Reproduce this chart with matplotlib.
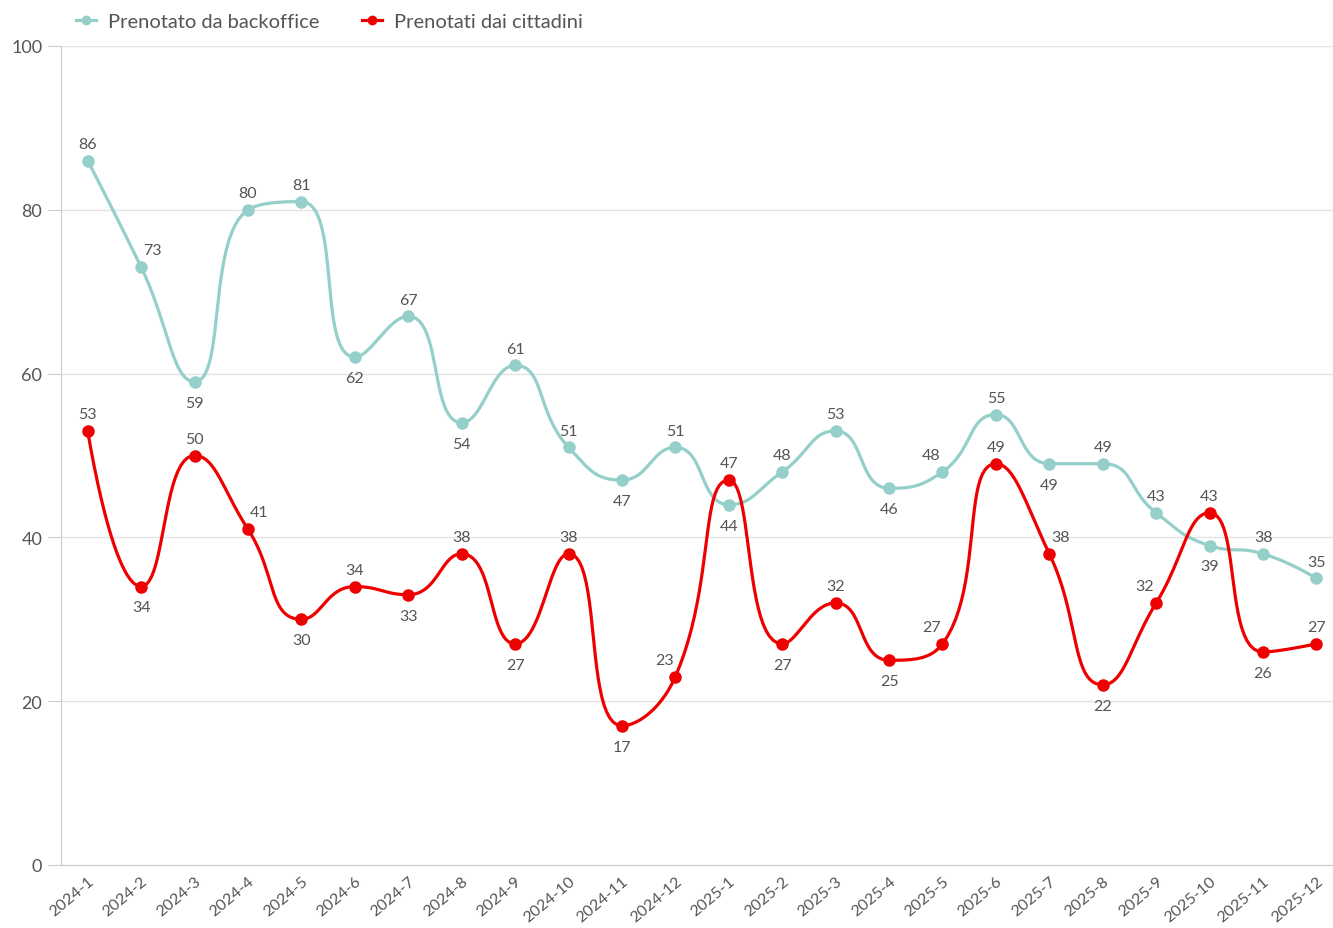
import numpy as np
import matplotlib.pyplot as plt

months = ['2024-1', '2024-2', '2024-3', '2024-4', '2024-5', '2024-6', '2024-7', '2024-8',
          '2024-9', '2024-10', '2024-11', '2024-12', '2025-1', '2025-2', '2025-3', '2025-4',
          '2025-5', '2025-6', '2025-7', '2025-8', '2025-9', '2025-10', '2025-11', '2025-12']
backoffice = [86, 73, 59, 80, 81, 62, 67, 54, 61, 51, 47, 51, 44, 48, 53, 46, 48, 55, 49, 49, 43, 39, 38, 35]
cittadini = [53, 34, 50, 41, 30, 34, 33, 38, 27, 38, 17, 23, 47, 27, 32, 25, 27, 49, 38, 22, 32, 43, 26, 27]

# label placement: 'a' above, 'b' below, 'r' above-right, 'l' above-left
pos_back = ['a', 'r', 'b', 'a', 'a', 'b', 'a', 'b', 'a', 'a', 'b', 'a',
            'b', 'a', 'a', 'b', 'l', 'a', 'b', 'a', 'a', 'b', 'a', 'a']
pos_citt = ['a', 'b', 'a', 'r', 'b', 'a', 'b', 'a', 'b', 'a', 'b', 'l',
            'a', 'b', 'a', 'b', 'l', 'a', 'r', 'b', 'l', 'a', 'b', 'a']

TEAL = '#94cfca'
RED = '#ee0000'
TXT = '#555555'

PX_X = 53.4   # pixels per category
PX_Y = 8.19   # pixels per unit


def smooth_path(vals, sm=0.5, n=24):
    # bezier smoothing with clamped control points (no overshoot), drawing only
    P = np.column_stack([np.arange(len(vals)) * PX_X, np.asarray(vals, float) * PX_Y])
    N = len(P)
    out = [P[0:1]]
    cp0 = P[0].copy()
    t = np.linspace(0, 1, n)[1:, None]
    for k in range(1, N):
        prev, cur = P[k - 1], P[k]
        if k + 1 >= N:
            cp1 = cur.copy()
            ncp0 = cur.copy()
        else:
            nxt = P[k + 1]
            v = nxt - prev
            lp = np.hypot(*(cur - prev))
            ln = np.hypot(*(nxt - cur))
            r = ln / (ln + lp)
            ncp0 = cur + v * sm * r
            ncp0 = np.minimum(ncp0, np.maximum(nxt, cur))
            ncp0 = np.maximum(ncp0, np.minimum(nxt, cur))
            v = ncp0 - cur
            cp1 = cur - v * lp / ln
            cp1 = np.minimum(cp1, np.maximum(prev, cur))
            cp1 = np.maximum(cp1, np.minimum(prev, cur))
            v = cur - cp1
            ncp0 = cur + v * ln / lp
        seg = ((1 - t)**3) * prev + 3 * ((1 - t)**2) * t * cp0 + 3 * (1 - t) * t**2 * cp1 + t**3 * cur
        out.append(seg)
        cp0 = ncp0
    pts = np.vstack(out)
    return pts[:, 0] / PX_X, pts[:, 1] / PX_Y


plt.rcParams['font.family'] = ['Lato', 'DejaVu Sans']
fig = plt.figure(figsize=(13.33, 9.29), dpi=100)
ax = fig.add_axes([61/1333, 1 - 866/929, 1 - 61/1333, (866 - 47)/929])

x = np.arange(len(months))
for vals, col, pos in [(backoffice, TEAL, pos_back), (cittadini, RED, pos_citt)]:
    sx, sy = smooth_path(vals)
    ax.plot(sx, sy, color=col, lw=2.3, zorder=3, solid_capstyle='round')
    ax.plot(x, vals, 'o', color=col, ms=8, zorder=4)
    for i, v in enumerate(vals):
        p = pos[i]
        if p == 'b':
            off, va = (0, -10), 'top'
        elif p == 'r':
            off, va = (8, 7), 'bottom'
        elif p == 'l':
            off, va = (-8, 7), 'bottom'
        else:
            off, va = (0, 7), 'bottom'
        ax.annotate(str(v), (i, v), xytext=off, textcoords='offset points',
                    ha='center', va=va, fontsize=11.5, color=TXT)

ax.set_ylim(0, 100)
ax.set_xlim(-0.5, 23.31)
ax.set_yticks([0, 20, 40, 60, 80, 100])
ax.set_xticks(x)
ax.set_xticklabels(months, rotation=40, ha='right', rotation_mode='anchor')
ax.tick_params(axis='y', colors=TXT, labelsize=13, length=9.5, color='#cccccc', pad=4)
ax.tick_params(axis='x', colors=TXT, labelsize=11.5, length=0, pad=6)
ax.grid(axis='y', color='#e3e3e3', lw=1)
ax.set_axisbelow(True)
for s in ['top', 'right']:
    ax.spines[s].set_visible(False)
ax.spines['left'].set_color('#cccccc')
ax.spines['bottom'].set_color('#cccccc')

h = [plt.Line2D([], [], color=TEAL, lw=2.3, marker='o', ms=6),
     plt.Line2D([], [], color=RED, lw=2.3, marker='o', ms=6)]
fig.legend(h, ['Prenotato da backoffice', 'Prenotati dai cittadini'], loc='upper left',
           bbox_to_anchor=(58/1333, 1.005), ncol=2, frameon=False, handlelength=1.0,
           columnspacing=2.1, handletextpad=0.6, prop={'size': 14.5},
           labelcolor=TXT)

fig.savefig('out.png', dpi=100)
